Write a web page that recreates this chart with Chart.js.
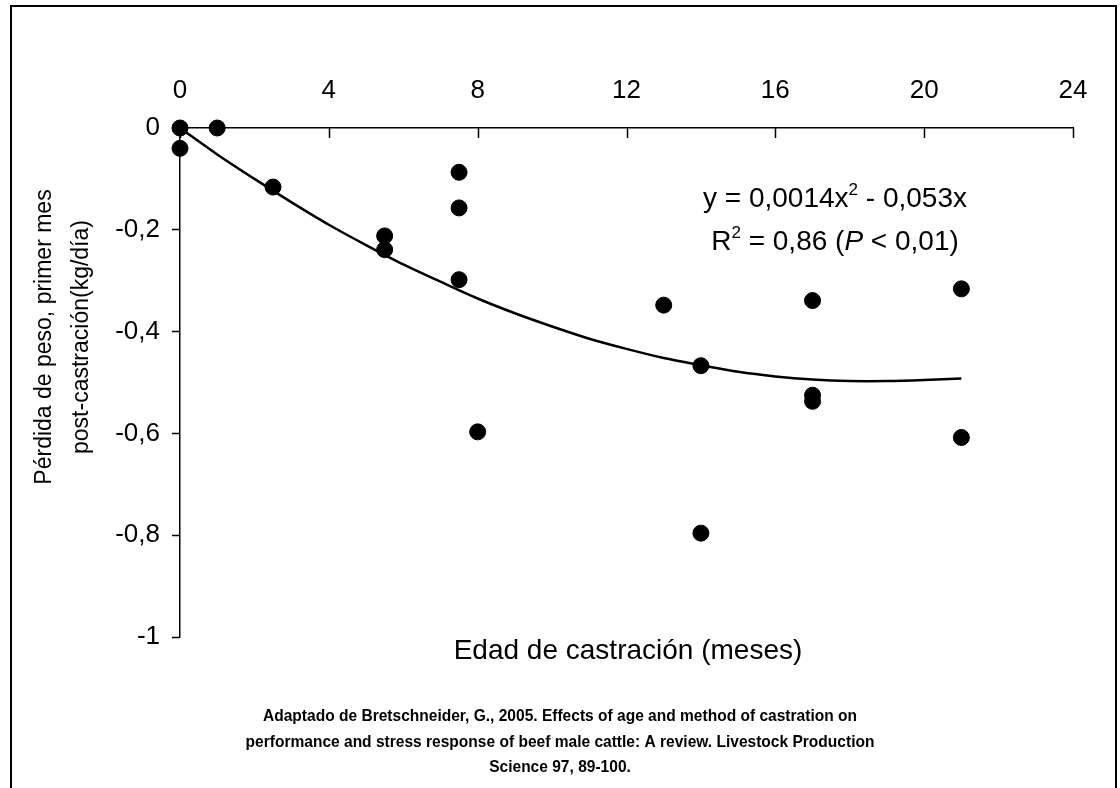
<!DOCTYPE html>
<html>
<head>
<meta charset="utf-8">
<script src="https://cdn.jsdelivr.net/npm/chart.js@4"></script>
<style>
  html, body { margin: 0; padding: 0; background: #fff; }
  #wrap { width: 1120px; height: 788px; position: relative; }
</style>
</head>
<body>
<div id="wrap"><canvas id="c" width="1120" height="788"></canvas></div>
<script>
// ---- data ----
const ageMonths = [0, 0, 1, 2.5, 5.5, 5.5, 7.5, 7.5, 7.5, 8, 13, 14, 14, 17, 17, 17, 21, 21];
const weightLoss = [0, -0.04, 0, -0.116, -0.212, -0.239, -0.087, -0.157, -0.298, -0.597, -0.348, -0.467, -0.796, -0.339, -0.525, -0.537, -0.316, -0.608];

const trendAge = [0, 1, 2, 3, 4, 5, 6, 7, 8, 9, 10, 11, 12, 13, 14, 15, 16, 17, 18, 19, 20, 21];
const trendLoss = [0, -0.052, -0.100, -0.146, -0.190, -0.230, -0.268, -0.302, -0.335, -0.364, -0.390, -0.414, -0.434, -0.452, -0.466, -0.479, -0.488, -0.494, -0.497, -0.497, -0.495, -0.492];

const xTickValues = [0, 4, 8, 12, 16, 20, 24];
const yTickValues = [0, -0.2, -0.4, -0.6, -0.8, -1];

const xTitle = 'Edad de castración (meses)';
const yTitleLines = ['Pérdida de peso, primer mes', 'post-castración(kg/día)'];
const eqLine1 = [['y = 0,0014x', 'n'], ['2', 'sup'], [' - 0,053x', 'n']];
const eqLine2 = [['R', 'n'], ['2', 'sup'], [' = 0,86 (', 'n'], ['P', 'i'], [' < 0,01)', 'n']];
const citation = [
  'Adaptado de Bretschneider, G., 2005. Effects of age and method of castration on',
  'performance and stress response of beef male cattle: A review. Livestock Production',
  'Science 97, 89-100.'
];

const FONT = "'Liberation Sans', Arial, sans-serif";

function fmt(v) {
  const r = Math.round(v * 10) / 10;
  return String(r).replace('.', ',');
}

const decor = {
  id: 'decor',
  beforeDraw(chart) {
    const ctx = chart.ctx;
    ctx.save();
    ctx.fillStyle = '#fff';
    ctx.fillRect(0, 0, chart.width, chart.height);
    ctx.restore();
  },
  afterDraw(chart) {
    const ctx = chart.ctx;
    const xs = chart.scales.x, ys = chart.scales.y;
    ctx.save();
    // outer frame
    ctx.strokeStyle = '#000';
    ctx.lineWidth = 2;
    ctx.strokeRect(11, 6, 1105, 800);

    // inward x tick marks
    ctx.lineWidth = 1.5;
    ctx.beginPath();
    xs.ticks.forEach((t, i) => {
      const px = Math.round(xs.getPixelForTick(i)) + 0.5;
      ctx.moveTo(px, ys.top);
      ctx.lineTo(px, ys.top + 10);
    });
    ctx.stroke();

    ctx.fillStyle = '#000';
    // equation
    function drawRich(parts, cx, baseline, size) {
      const fontFor = (k) => k === 'sup' ? (Math.round(size * 0.62) + 'px ' + FONT)
                          : k === 'i' ? ('italic ' + size + 'px ' + FONT)
                          : (size + 'px ' + FONT);
      let total = 0;
      parts.forEach(([t, k]) => { ctx.font = fontFor(k); total += ctx.measureText(t).width; });
      let x = cx - total / 2;
      ctx.textAlign = 'left';
      ctx.textBaseline = 'alphabetic';
      parts.forEach(([t, k]) => {
        ctx.font = fontFor(k);
        const yy = k === 'sup' ? baseline - size * 0.42 : baseline;
        ctx.fillText(t, x, yy);
        x += ctx.measureText(t).width;
      });
    }
    drawRich(eqLine1, 835, 207, 28);
    drawRich(eqLine2, 835, 250, 28);

    // x title
    ctx.font = '28px ' + FONT;
    ctx.textAlign = 'center';
    ctx.textBaseline = 'alphabetic';
    ctx.fillText(xTitle, 628, 659);

    // y title (rotated)
    ctx.save();
    ctx.font = '23px ' + FONT;
    ctx.textAlign = 'center';
    ctx.textBaseline = 'alphabetic';
    const ybase = [51, 88];
    yTitleLines.forEach((line, i) => {
      ctx.save();
      ctx.translate(ybase[i], 337);
      ctx.rotate(-Math.PI / 2);
      ctx.fillText(line, 0, 0);
      ctx.restore();
    });
    ctx.restore();

    // citation (bold, condensed)
    const citeY = [721, 747, 772];
    const targetW = 594;
    ctx.font = 'bold 17px ' + FONT;
    const w0 = ctx.measureText(citation[0]).width;
    const sx = targetW / w0;
    citation.forEach((line, i) => {
      ctx.save();
      ctx.translate(560, citeY[i]);
      ctx.scale(sx, 1);
      ctx.textAlign = 'center';
      ctx.fillText(line, 0, 0);
      ctx.restore();
    });
    ctx.restore();
  }
};

new Chart(document.getElementById('c'), {
  type: 'scatter',
  data: {
    datasets: [
      {
        label: 'Tendencia',
        data: trendAge.map((a, i) => ({ x: a, y: trendLoss[i] })),
        showLine: true,
        borderColor: '#000',
        borderWidth: 2.5,
        pointRadius: 0,
        tension: 0.3,
        fill: false,
        clip: false,
        order: 2
      },
      {
        label: 'Datos',
        data: ageMonths.map((a, i) => ({ x: a, y: weightLoss[i] })),
        backgroundColor: '#000',
        borderColor: '#000',
        pointRadius: 8,
        pointHoverRadius: 8,
        clip: false,
        order: 1
      }
    ]
  },
  options: {
    responsive: false,
    animation: false,
    devicePixelRatio: 1,
    layout: { padding: { left: 80, top: 68, right: 47, bottom: 151 } },
    plugins: { legend: { display: false }, tooltip: { enabled: false } },
    scales: {
      x: {
        type: 'linear',
        position: 'top',
        min: 0, max: 24,
        afterBuildTicks: (s) => { s.ticks = xTickValues.map(v => ({ value: v })); },
        afterFit: (s) => { s.height = 60; },
        ticks: { color: '#000', font: { family: FONT, size: 26 }, padding: 22, maxRotation: 0 },
        grid: { display: true, drawOnChartArea: false, drawTicks: false },
        border: { color: '#000', width: 1.5 }
      },
      y: {
        type: 'linear',
        min: -1, max: 0,
        afterBuildTicks: (s) => { s.ticks = yTickValues.map(v => ({ value: v })); },
        afterFit: (s) => { s.width = 100; },
        ticks: { color: '#000', font: { family: FONT, size: 26 }, padding: 12, callback: (v) => fmt(v) },
        grid: { display: true, drawOnChartArea: false, drawTicks: true, tickLength: 8, tickColor: '#000', tickWidth: 1.5 },
        border: { color: '#000', width: 1.5 }
      }
    }
  },
  plugins: [decor]
});
</script>
</body>
</html>
